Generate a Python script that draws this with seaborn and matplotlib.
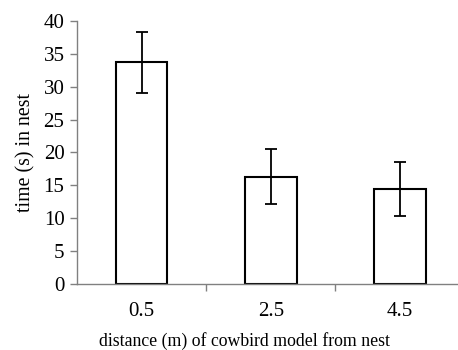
import pandas as pd
import matplotlib.pyplot as plt
import seaborn as sns
import numpy as np

# distance of cowbird model vs time in nest
distance = ['0.5', '2.5', '4.5']
time_in_nest = [33.7, 16.3, 14.5]
err = [4.7, 4.2, 4.1]

df = pd.DataFrame({'distance': distance, 'time': time_in_nest})

sns.set_style('white')
plt.rcParams['font.family'] = ['Liberation Serif', 'DejaVu Serif']
plt.rcParams['text.color'] = 'black'
plt.rcParams['axes.labelcolor'] = 'black'
plt.rcParams['xtick.labelcolor'] = 'black'
plt.rcParams['ytick.labelcolor'] = 'black'

fig = plt.figure(figsize=(4.58, 3.5), dpi=100)
ax = fig.add_axes([0.168, 0.189, 0.832, 0.751])

sns.barplot(data=df, x='distance', y='time', color='white', edgecolor='black',
            linewidth=1.5, width=0.4, errorbar=None, ax=ax)
ax.errorbar(np.arange(len(distance)), time_in_nest, yerr=err, fmt='none',
            ecolor='black', elinewidth=1.3, capsize=4.5, capthick=1.3)

ax.set_xlim(-0.5, 2.45)
ax.set_ylim(0, 40)
ax.set_yticks(range(0, 41, 5))

for s in ['top', 'right']:
    ax.spines[s].set_visible(False)
for s in ['left', 'bottom']:
    ax.spines[s].set_color('#808080')
    ax.spines[s].set_linewidth(1.0)

ax.tick_params(axis='y', which='major', direction='out', length=5, width=1,
               color='#808080', pad=4, labelsize=15, left=True)
ax.set_xticks([0.5, 1.5], minor=True)
ax.tick_params(axis='x', which='minor', direction='out', length=5, width=1,
               color='#808080', bottom=True)
ax.tick_params(axis='x', which='major', length=0, pad=13, labelsize=15)

ax.set_xlabel('distance (m) of cowbird model from nest', fontsize=12.8)
ax.xaxis.set_label_coords(0.44, -0.182)
ax.set_ylabel('time (s) in nest', fontsize=14.3, labelpad=6)

fig.savefig('out.png', dpi=100)
